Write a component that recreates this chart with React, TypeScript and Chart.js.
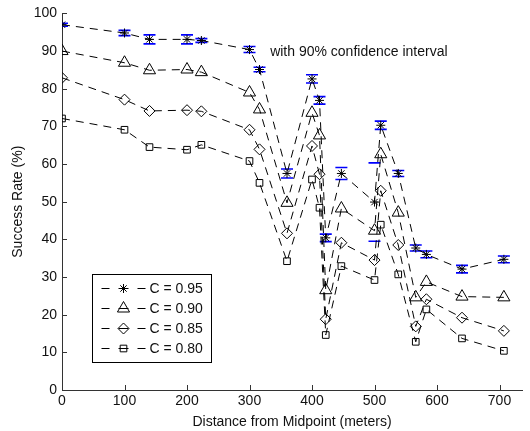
import React, { useEffect, useRef } from 'react';
import { Chart, registerables } from 'chart.js';
import { drawPoint } from 'chart.js/helpers';

Chart.register(...registerables);

// ---- data ----
const DISTANCES = [0, 100, 140, 200, 223, 300, 316, 360, 400, 412, 422, 447, 500, 510, 538, 566, 583, 640, 707];
const RATE_095 = [97, 94.8, 93.1, 93.1, 92.8, 90.4, 85.1, 57.5, 82.6, 76.9, 40.4, 57.5, 49.9, 70.3, 57.5, 37.7, 36, 32.1, 34.7];
const RATE_090 = [90, 86.9, 84.9, 85.1, 84.4, 79, 74.5, 49.7, 73.6, 67.6, 26.5, 48.2, 42.3, 62.6, 47.1, 24.6, 28.7, 24.8, 24.6];
const RATE_085 = [82.9, 77.1, 74.1, 74.3, 74, 69.1, 63.9, 41.6, 64.8, 57.3, 18.8, 39.1, 34.5, 52.9, 38.5, 16.9, 24.1, 19.2, 15.7];
const RATE_080 = [72.1, 69.1, 64.5, 63.8, 65.1, 60.8, 55, 34.2, 55.9, 48.4, 14.6, 32.9, 29.2, 43.9, 30.7, 12.8, 21.4, 13.7, 10.4];
// half width of the 90% confidence interval for C = 0.95
const CI_095 = [0.4, 0.7, 1.2, 1.2, 0.5, 0.8, 0.6, 1.2, 1.1, 1.0, 1.0, 1.6, 10.4, 1.1, 0.8, 0.8, 0.9, 1.0, 0.9];

const SERIES_LABELS = ['C = 0.95', 'C = 0.90', 'C = 0.85', 'C = 0.80'];
const X_TICKS = [0, 100, 200, 300, 400, 500, 600, 700];
const Y_TICKS = [0, 10, 20, 30, 40, 50, 60, 70, 80, 90, 100];
const X_LABEL = 'Distance from Midpoint (meters)';
const Y_LABEL = 'Success Rate (%)';
const ANNOTATION_TEXT = 'with 90% confidence interval';
const ANNOTATION_AT = { x: 333, y: 89.7 };

const FONT_FAMILY = '"Liberation Sans", Arial, Helvetica, sans-serif';
const TEXT_COLOR = '#111';
const AXIS_COLOR = '#333';
const font = { family: FONT_FAMILY, size: 14 };

const STYLES = [
  { pointStyle: 'star', radius: 4.5 },
  { pointStyle: 'triangle', radius: 7 },
  { pointStyle: 'rectRot', radius: 5.5 },
  { pointStyle: 'rect', radius: 4.7 },
];

const ALL_SERIES = [RATE_095, RATE_090, RATE_085, RATE_080];

const tickPlugin = {
  id: 'inwardTicks',
  beforeDatasetsDraw(chart: any) {
    const { ctx, chartArea, scales } = chart;
    ctx.save();
    ctx.strokeStyle = AXIS_COLOR;
    ctx.lineWidth = 1;
    ctx.beginPath();
    X_TICKS.forEach((v) => {
      const px = Math.round(scales.x.getPixelForValue(v)) + 0.5;
      ctx.moveTo(px, chartArea.bottom);
      ctx.lineTo(px, chartArea.bottom - 5);
    });
    Y_TICKS.forEach((v) => {
      const py = Math.round(scales.y.getPixelForValue(v)) + 0.5;
      ctx.moveTo(chartArea.left, py);
      ctx.lineTo(chartArea.left + 5, py);
    });
    ctx.stroke();
    ctx.restore();
  },
};

const errorBarPlugin = {
  id: 'errorBars',
  beforeDatasetsDraw(chart: any) {
    const { ctx, chartArea, scales } = chart;
    ctx.save();
    ctx.beginPath();
    ctx.rect(chartArea.left, chartArea.top, chartArea.right - chartArea.left, chartArea.bottom - chartArea.top);
    ctx.clip();
    ctx.strokeStyle = '#0000ff';
    ctx.lineWidth = 1.6;
    DISTANCES.forEach((d, i) => {
      const px = scales.x.getPixelForValue(d);
      const hi = scales.y.getPixelForValue(RATE_095[i] + CI_095[i]);
      const lo = scales.y.getPixelForValue(RATE_095[i] - CI_095[i]);
      ctx.beginPath();
      ctx.moveTo(px - 6, hi);
      ctx.lineTo(px + 6, hi);
      ctx.moveTo(px - 6, lo);
      ctx.lineTo(px + 6, lo);
      ctx.stroke();
    });
    ctx.restore();
  },
};

const overlayPlugin = {
  id: 'overlay',
  afterDraw(chart: any) {
    const { ctx, chartArea, scales } = chart;
    ctx.save();
    // annotation
    ctx.font = `14px ${FONT_FAMILY}`;
    ctx.fillStyle = TEXT_COLOR;
    ctx.textAlign = 'left';
    ctx.textBaseline = 'middle';
    ctx.fillText(ANNOTATION_TEXT, scales.x.getPixelForValue(ANNOTATION_AT.x), scales.y.getPixelForValue(ANNOTATION_AT.y));

    // legend box
    const bx = chartArea.left + 30.5;
    const by = chartArea.bottom - 115.5;
    const bw = 119;
    const bh = 88;
    ctx.fillStyle = '#fff';
    ctx.fillRect(bx, by, bw, bh);
    ctx.strokeStyle = '#000';
    ctx.lineWidth = 1;
    ctx.strokeRect(bx, by, bw, bh);
    chart.data.datasets.forEach((ds: any, i: number) => {
      const cy = by + 14 + i * 20;
      const mx = bx + 31;
      ctx.strokeStyle = '#000';
      ctx.lineWidth = 1;
      ctx.beginPath();
      ctx.moveTo(bx + 9, cy);
      ctx.lineTo(bx + 17, cy);
      ctx.moveTo(mx - 5, cy);
      ctx.lineTo(mx + 5, cy);
      ctx.moveTo(bx + 45, cy);
      ctx.lineTo(bx + 53, cy);
      ctx.stroke();
      ctx.fillStyle = 'rgba(0,0,0,0)';
      drawPoint(ctx, { pointStyle: ds.pointStyle, radius: ds.pointRadius, rotation: 0, borderWidth: 1 } as any, mx, cy);
      ctx.fillStyle = TEXT_COLOR;
      ctx.font = `14px ${FONT_FAMILY}`;
      ctx.textAlign = 'left';
      ctx.textBaseline = 'middle';
      ctx.fillText(ds.label, bx + 57, cy + 0.5);
    });
    ctx.restore();
  },
};

export default function App() {
  const ref = useRef<HTMLCanvasElement | null>(null);
  useEffect(() => {
    if (!ref.current) return;
    const datasets = ALL_SERIES.map((arr, i) => ({
      label: SERIES_LABELS[i],
      data: DISTANCES.map((d, j) => ({ x: d, y: arr[j] })),
      borderColor: '#000',
      borderWidth: 1,
      borderDash: [8, 6],
      pointStyle: STYLES[i].pointStyle,
      pointRadius: STYLES[i].radius,
      pointBorderColor: '#000',
      pointBackgroundColor: 'rgba(0,0,0,0)',
      pointBorderWidth: 1,
      fill: false,
      tension: 0,
    }));
    const chart = new Chart(ref.current, {
      type: 'line',
      data: { datasets },
      options: {
        animation: false,
        responsive: false,
        maintainAspectRatio: false,
        layout: { padding: { top: 13, right: 0, bottom: 0, left: 0 } },
        plugins: { legend: { display: false }, tooltip: { enabled: false } },
        scales: {
          x: {
            type: 'linear',
            min: 0,
            max: 736,
            grid: { display: false, drawTicks: false },
            border: { display: true, color: AXIS_COLOR, width: 1 },
            ticks: { stepSize: 100, padding: 3, font, color: TEXT_COLOR, maxRotation: 0, autoSkip: false },
            afterBuildTicks: (s: any) => { s.ticks = X_TICKS.map((v) => ({ value: v })); },
            afterFit: (s: any) => { s.height = 41; },
            title: { display: true, text: X_LABEL, font, color: TEXT_COLOR, padding: { top: 4, bottom: 0 } },
          },
          y: {
            type: 'linear',
            min: 0,
            max: 100,
            grid: { display: false, drawTicks: false },
            border: { display: true, color: AXIS_COLOR, width: 1 },
            ticks: { stepSize: 10, padding: 5, font, color: TEXT_COLOR, autoSkip: false },
            afterBuildTicks: (s: any) => { s.ticks = Y_TICKS.map((v) => ({ value: v })); },
            afterFit: (s: any) => { s.width = 62; },
            title: { display: true, text: Y_LABEL, font, color: TEXT_COLOR, padding: { top: 10, bottom: 0 } },
          },
        },
      } as any,
      plugins: [tickPlugin, errorBarPlugin, overlayPlugin],
    });
    return () => chart.destroy();
  }, []);
  return (
    <div style={{ position: 'absolute', left: 0, top: 0, width: 530, height: 431, background: '#fff' }}>
      <canvas ref={ref} width={530} height={431} style={{ display: 'block', width: 530, height: 431 }} />
    </div>
  );
}
